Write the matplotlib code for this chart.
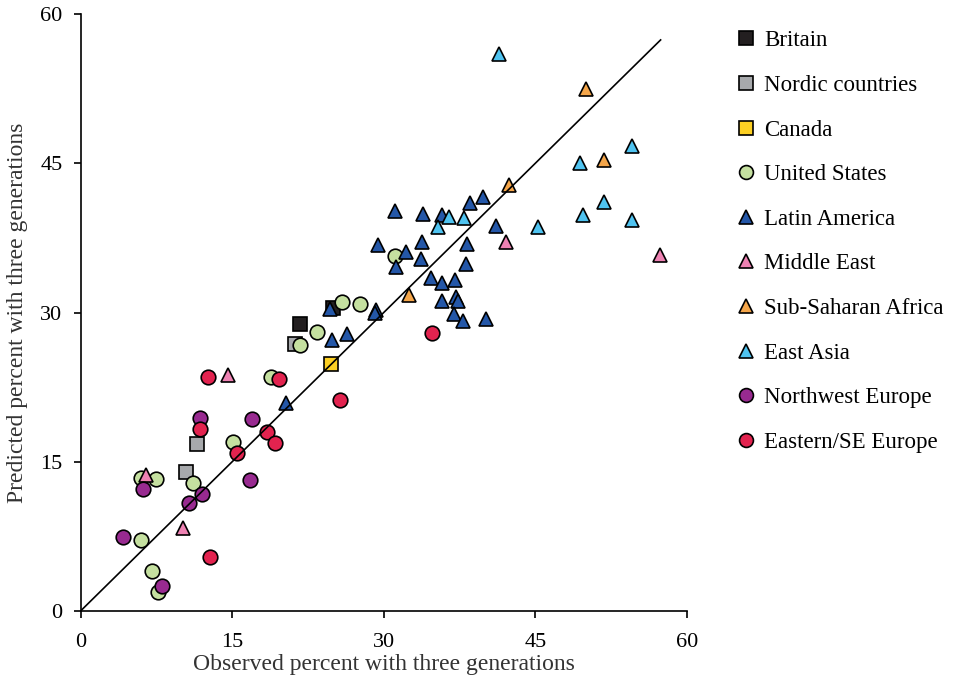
import matplotlib
matplotlib.use('Agg')
import matplotlib.pyplot as plt
import numpy as np

plt.rcParams['font.family'] = ['Liberation Serif', 'DejaVu Serif']
plt.rcParams['font.size'] = 15

# observed (x) and predicted (y) percent with three generations, by region
britain_x = [21.7, 25.0]
britain_y = [28.8, 30.5]
nordic_x = [11.5, 10.4, 21.2]
nordic_y = [16.8, 14.0, 26.8]
canada_x = [24.8]
canada_y = [24.8]
us_x = [18.8, 15.1, 6.0, 7.5, 11.1, 6.0, 7.1, 7.7, 21.7, 23.4, 25.9, 27.7, 31.1]
us_y = [23.5, 17.0, 13.4, 13.3, 12.9, 7.1, 4.0, 1.9, 26.7, 28.0, 31.1, 30.9, 35.7]
latam_x = [24.7, 29.2, 29.1, 24.9, 26.4, 20.3, 31.1, 33.9, 35.8, 38.5, 39.8, 41.1,
           29.4, 32.2, 31.2, 33.8, 33.7, 38.2, 38.1, 34.7, 35.8, 37.1, 35.8, 37.2,
           37.4, 37.0, 37.8, 40.1]
latam_y = [30.4, 30.3, 30.0, 27.2, 27.8, 20.9, 40.2, 39.9, 39.8, 41.0, 41.6, 38.7,
           36.8, 36.1, 34.6, 37.1, 35.4, 36.9, 34.9, 33.5, 33.0, 33.3, 31.2, 31.6,
           31.2, 29.9, 29.2, 29.4]
mideast_x = [14.6, 6.5, 10.1, 42.1, 57.3]
mideast_y = [23.7, 13.7, 8.3, 37.1, 35.8]
africa_x = [32.5, 42.4, 50.0, 51.8]
africa_y = [31.8, 42.8, 52.5, 45.3]
easia_x = [41.4, 49.4, 54.6, 51.8, 49.7, 54.6, 45.3, 36.5, 37.9, 35.4]
easia_y = [56.0, 45.0, 46.7, 41.1, 39.8, 39.3, 38.6, 39.6, 39.5, 38.6]
nweur_x = [11.8, 17.0, 6.2, 12.0, 10.7, 16.8, 4.2, 8.1]
nweur_y = [19.4, 19.3, 12.3, 11.8, 10.9, 13.2, 7.4, 2.5]
eseur_x = [12.6, 19.6, 11.8, 15.5, 18.5, 19.2, 12.8, 25.7, 34.8]
eseur_y = [23.5, 23.3, 18.3, 15.9, 18.0, 16.9, 5.4, 21.2, 27.9]

ticks = [0, 15, 30, 45, 60]
line_end = 57.4

groups = [
    ('Britain', britain_x, britain_y, 's', '#231f20'),
    ('Nordic countries', nordic_x, nordic_y, 's', '#a7a9ac'),
    ('Canada', canada_x, canada_y, 's', '#fdd023'),
    ('United States', us_x, us_y, 'o', '#c5e0a0'),
    ('Latin America', latam_x, latam_y, '^', '#2457a8'),
    ('Middle East', mideast_x, mideast_y, '^', '#ee82b3'),
    ('Sub-Saharan Africa', africa_x, africa_y, '^', '#f5a64a'),
    ('East Asia', easia_x, easia_y, '^', '#4fc3f0'),
    ('Northwest Europe', nweur_x, nweur_y, 'o', '#982a90'),
    ('Eastern/SE Europe', eseur_x, eseur_y, 'o', '#e2234f'),
]

fig = plt.figure(figsize=(9.54, 6.79), dpi=100)
ax = fig.add_axes([0.0844, 0.1001, 0.6356, 0.8792])

for name, xs, ys, m, c in groups:
    ax.plot(xs, ys, linestyle='none', marker=m, markersize=10.5,
            markerfacecolor=c, markeredgecolor='black', markeredgewidth=1.2,
            label=name, zorder=3)

ax.plot([0, line_end], [0, line_end], color='black', linewidth=1.2, zorder=4)

ax.set_xlim(0, 60)
ax.set_ylim(0, 60)
ax.set_xticks(ticks)
ax.set_yticks(ticks)
ax.spines['top'].set_visible(False)
ax.spines['right'].set_visible(False)
ax.spines['left'].set_linewidth(1.2)
ax.spines['bottom'].set_linewidth(1.2)
ax.tick_params(axis='both', direction='out', length=5, width=1.2, labelsize=16)
ax.tick_params(axis='x', pad=11)
ax.tick_params(axis='y', pad=8)
ax.set_xlabel('Observed percent with three generations', fontsize=17, color='#333333', labelpad=1)
ax.set_ylabel('Predicted percent with three generations', fontsize=17, color='#333333', labelpad=9)

ax.legend(loc='upper left', bbox_to_anchor=(0.76, 0.969), bbox_transform=fig.transFigure,
          frameon=False, fontsize=16.5, labelspacing=1.03, handletextpad=0.3,
          handlelength=1.0, markerscale=0.95, borderaxespad=0)

fig.savefig('out.png', dpi=100)
